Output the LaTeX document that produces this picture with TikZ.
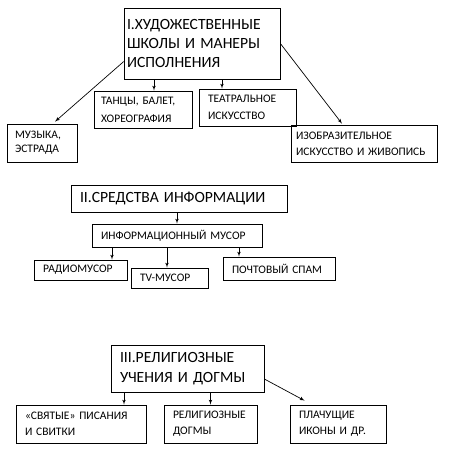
\documentclass[tikz,border=0pt]{standalone}
\usepackage{fontspec}
\setmainfont{Carlito}
\usetikzlibrary{arrows}
\usetikzlibrary{calc}

\tikzset{
  bigbox/.style={draw, line width=0.7pt, align=left, inner xsep=9pt, font=\fontsize{15.6}{19}\selectfont},
  smallbox/.style={draw, line width=0.7pt, align=left, inner xsep=9pt, font=\fontsize{11.5}{16}\selectfont},
}

\begin{document}
\begin{tikzpicture}[>= latex', x=1pt, y=-1pt, line width=0.7pt]
         \useasboundingbox (0,0) rectangle (448,450);
         % I
         \node[bigbox, inner xsep=3pt, text width=150pt, minimum height=71pt] (art) at (202,43.5) {I.ХУДОЖЕСТВЕННЫЕ\\ШКОЛЫ И МАНЕРЫ\\ИСПОЛНЕНИЯ};
         \node[smallbox, inner xsep=8pt, text width=54pt, minimum height=38pt, font=\fontsize{11.5}{14}\selectfont] (music) at (42,143) {МУЗЫКА,\\ЭСТРАДА};
         \node[smallbox, inner xsep=7pt, text width=84pt, minimum height=37pt, font=\fontsize{11.5}{18}\selectfont] (dance) at (143,109.5) {ТАНЦЫ, БАЛЕТ,\\ХОРЕОГРАФИЯ};
         \node[smallbox, text width=79pt, minimum height=37pt, font=\fontsize{11.5}{17}\selectfont] (theatre) at (247.5,107.5) {ТЕАТРАЛЬНОЕ\\ИСКУССТВО};
         \node[smallbox, inner xsep=5pt, text width=136pt, minimum height=37pt] (paint) at (364,143.5) {ИЗОБРАЗИТЕЛЬНОЕ\\ИСКУССТВО И ЖИВОПИСЬ};
         \draw[->] (art.193) -- ($(music.north)+(13,-2)$);
         \draw[->] (art.south -| 154,0) -- (dance.north -| 154,0);
         \draw[->] (art.south -| 222,0) -- (theatre.north -| 222,0);
         \draw[->] (art.east) -- ($(paint.north)+(-22,-1)$);
         % II
         \node[bigbox, text width=198pt, minimum height=27pt] (media) at (179,198.5) {II.СРЕДСТВА ИНФОРМАЦИИ};
         \node[smallbox, text width=152pt, minimum height=23pt] (junk) at (177,235.5) {ИНФОРМАЦИОННЫЙ МУСОР};
         \node[smallbox, text width=75pt, minimum height=20pt] (radio) at (80.5,270) {РАДИОМУСОР};
         \node[smallbox, text width=59pt, minimum height=20pt] (tv) at (169.5,278) {TV-МУСОР};
         \node[smallbox, text width=94pt, minimum height=23pt] (spam) at (279,268.5) {ПОЧТОВЫЙ СПАМ};
         \draw[->] (media.south -| junk.north) -- (junk.north);
         \draw[->] (junk.south -| 112,0) -- (radio.north -| 112,0);
         \draw[->] (junk.south -| 167,0) -- (tv.north -| 167,0);
         \draw[->] (junk.south -| 239,0) -- (spam.north -| 239,0);
         % III
         \node[bigbox, text width=135pt, minimum height=47pt, font=\fontsize{15.6}{20}\selectfont] (faith) at (187.5,368.5) {III.РЕЛИГИОЗНЫЕ\\УЧЕНИЯ И ДОГМЫ};
         \node[smallbox, text width=112pt, minimum height=38pt] (scripts) at (81,424) {«СВЯТЫЕ» ПИСАНИЯ\\И СВИТКИ};
         \node[smallbox, text width=75pt, minimum height=38pt] (dogmas) at (210.5,424) {РЕЛИГИОЗНЫЕ\\ДОГМЫ};
         \node[smallbox, text width=78pt, minimum height=38pt] (icons) at (338,424) {ПЛАЧУЩИЕ\\ИКОНЫ И ДР.};
         \coordinate (iconsend) at ($(icons.north west)+(15,-4)$);
         \draw[->] (faith.south -| 124,0) -- (scripts.north -| 124,0);
         \draw[->] (faith.south -| dogmas.north) -- (dogmas.north);
         \draw[->] ($(faith.east)+(0,10.5)$) -- (iconsend);
        \end{tikzpicture}
\end{document}
